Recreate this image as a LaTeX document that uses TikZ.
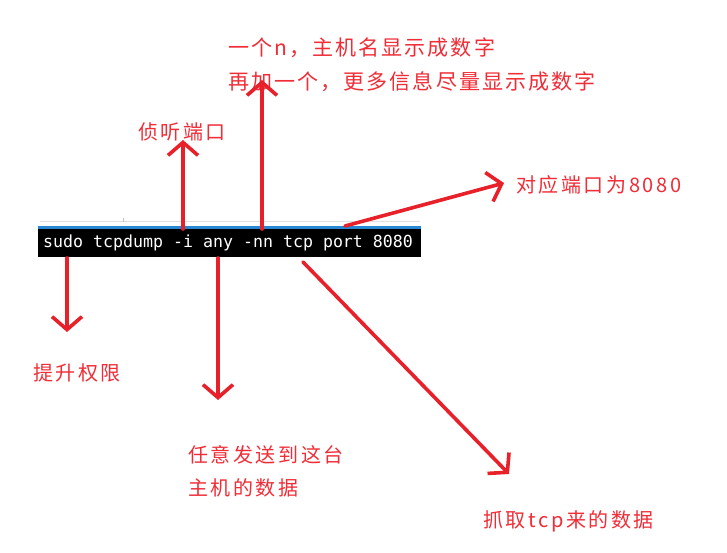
\documentclass[tikz,border=0pt]{standalone}
\usepackage{fontspec}
\usetikzlibrary{arrows.meta}
\newfontfamily\cjkfont[LetterSpace=13]{Noto Sans CJK SC}
\newfontfamily\cjkbig[LetterSpace=10]{Noto Sans CJK SC}
\newfontfamily\termfont{DejaVu Sans Mono}
\definecolor{mred}{RGB}{232,32,42}
\definecolor{tred}{RGB}{240,45,55}
\definecolor{tblue}{RGB}{40,135,210}
\tikzset{
  note/.style={anchor=west, inner sep=0pt, text=tred, font=\cjkfont\fontsize{20}{24}\selectfont},
  bignote/.style={anchor=west, inner sep=0pt, text=tred, font=\cjkbig\fontsize{21}{25}\selectfont},
  redarrow/.style={draw=mred, line width=3.6pt, line cap=round,
    -{Straight Barb[length=13pt, width=30pt, line width=3.6pt]}},
  term/.style={fill=black, text=white, inner sep=0pt, minimum width=383pt, minimum height=31pt,
    font=\termfont\fontsize{16.6}{18}\selectfont}
}
\begin{document}
\begin{tikzpicture}[x=1pt,y=-1pt]
\useasboundingbox[fill=white] (0,0) rectangle (727,552);
% faint line above terminal
\draw[black!12, line width=0.8pt] (40,221) -- (420,221);
\draw[black!25, line width=0.8pt] (123,218) -- (123,222);
% terminal bar
\node[term] (cmd) at (229.5,241.5) {};
\node[anchor=west, inner sep=0pt, text=white, font=\termfont\fontsize{16.6}{18}\selectfont] (cmdtext) at (43,242.5) {sudo tcpdump -i any -nn tcp port 8080};
\fill[tblue] (38,226) rectangle (421,228.5);
% labels
\node[bignote] (top1) at (228,48) {一个n，主机名显示成数字};
\node[bignote] (top2) at (228,82) {再加一个，更多信息尽量显示成数字};
\node[note] (listen) at (138,132) {侦听端口};
\node[note] (port) at (516,185) {对应端口为8080};
\node[note] (sudo) at (33,373) {提升权限};
\node[note] (any1) at (188,455) {任意发送到这台};
\node[note] (any2) at (188,488) {主机的数据};
\node[note] (tcp) at (483,521) {抓取tcp来的数据};
% arrow coordinates
\coordinate (s1) at (67,258);  \coordinate (e1) at (67,332);
\coordinate (s2) at (183,229); \coordinate (e2) at (183,140);
\coordinate (s3) at (262,229); \coordinate (e3) at (262,80);
\coordinate (s4) at (345,226); \coordinate (e4) at (504,183);
\coordinate (s5) at (218,258); \coordinate (e5) at (218,400);
\coordinate (s6) at (303,262); \coordinate (e6) at (509,474);
\draw[redarrow] (s1) -- (e1);
\draw[redarrow] (s2) -- (e2);
\draw[redarrow] (s3) -- (e3);
\draw[redarrow] (s4) -- (e4);
\draw[redarrow] (s5) -- (e5);
\draw[redarrow] (s6) -- (e6);
\end{tikzpicture}
\end{document}
